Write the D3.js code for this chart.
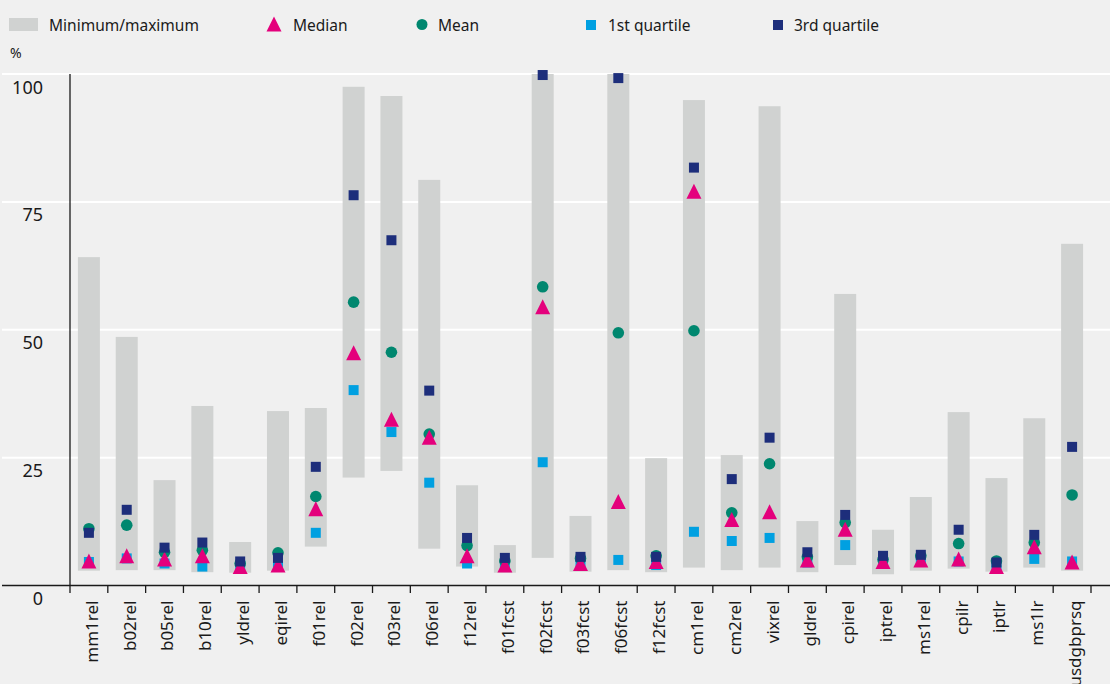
<!DOCTYPE html>
<html>
<head>
<meta charset="utf-8">
<script src="https://cdn.jsdelivr.net/npm/d3@7"></script>
<style>
  html, body { margin: 0; padding: 0; background: #f0f0f0; }
  svg { display: block; font-family: "Noto Sans", sans-serif; }
</style>
</head>
<body>
<svg id="chart" width="1110" height="684"></svg>
<script>
const categories = ["mm1rel","b02rel","b05rel","b10rel","yldrel","eqirel","f01rel","f02rel","f03rel","f06rel","f12rel","f01fcst","f02fcst","f03fcst","f06fcst","f12fcst","cm1rel","cm2rel","vixrel","gldrel","cpirel","iptrel","ms1rel","cpilr","iptlr","ms1lr","usdgbprsq"];
const minVals = [2.9,3.0,3.0,2.6,2.5,2.9,7.6,21.1,22.4,7.2,3.7,2.5,5.4,2.7,3.0,2.6,3.5,3.0,3.5,2.6,4.0,2.2,2.9,3.3,2.7,3.5,2.9];
const maxVals = [64.2,48.6,20.6,35.1,8.5,34.1,34.7,97.5,95.7,79.3,19.6,7.9,100,13.6,100,24.9,94.9,25.5,93.7,12.6,57.0,10.9,17.3,33.9,21.0,32.7,66.8];
const medianVals = [4.8,5.8,5.2,5.8,3.7,4.0,15.0,45.5,32.5,29.0,5.8,4.0,54.5,4.3,16.4,4.7,77.1,12.9,14.4,5.0,11.0,4.7,5.0,5.2,3.7,7.6,4.6];
const meanVals = [11.1,11.8,6.5,6.9,4.3,6.4,17.4,55.4,45.6,29.6,7.8,4.8,58.4,5.3,49.4,5.8,49.8,14.2,23.8,5.6,12.3,5.1,5.8,8.2,4.8,8.4,17.7];
const q1Vals = [4.6,5.3,4.3,3.7,4.0,4.0,10.3,38.2,30.0,20.1,4.3,3.7,24.1,4.5,5.0,4.0,10.5,8.7,9.3,4.5,7.9,4.5,5.0,4.7,4.0,5.2,4.7];
const q3Vals = [10.3,14.8,7.4,8.4,4.7,5.4,23.2,76.3,67.5,38.1,9.3,5.4,99.8,5.6,99.2,5.6,81.7,20.8,28.9,6.5,13.8,5.8,6.0,10.9,4.5,9.9,27.1];
const yTicks = [0,25,50,75,100];
const legendLabels = ["Minimum/maximum","Median","Mean","1st quartile","3rd quartile"];

const colors = { bar: "#d0d2d1", median: "#e4007c", mean: "#00876f", q1: "#00a0e1", q3: "#1d2e7b", text: "#1a1a1a", grid: "#ffffff" };

const W = 1110, H = 684;
const svg = d3.select("#chart");
svg.append("rect").attr("width", W).attr("height", H).attr("fill", "#f0f0f0");

const x = d3.scaleBand().domain(categories).range([70, 1091]).paddingInner(0).paddingOuter(0);
const y = d3.scaleLinear().domain([0, 100]).range([585.5, 74]);

// gridlines
svg.append("g").selectAll("line").data(yTicks.filter(d => d > 0)).join("line")
  .attr("x1", 2).attr("x2", W)
  .attr("y1", d => y(d)).attr("y2", d => y(d))
  .attr("stroke", colors.grid).attr("stroke-width", 2);

// y tick labels (placed below gridlines)
svg.append("g").selectAll("text").data(yTicks).join("text")
  .attr("x", 43).attr("y", d => y(d) + 19.5)
  .attr("text-anchor", "end")
  .attr("font-size", 18).attr("fill", colors.text)
  .text(d => d);

svg.append("text").attr("x", 10).attr("y", 58).attr("font-size", 14).attr("fill", colors.text).text("%");

const data = categories.map((c, i) => ({ c, min: minVals[i], max: maxVals[i], median: medianVals[i], mean: meanVals[i], q1: q1Vals[i], q3: q3Vals[i] }));
const bw = 22;
const cx = d => x(d.c) + x.bandwidth() / 2;

// min/max bars
svg.append("g").selectAll("rect").data(data).join("rect")
  .attr("x", d => cx(d) - bw / 2)
  .attr("y", d => y(d.max))
  .attr("width", bw)
  .attr("height", d => y(d.min) - y(d.max))
  .attr("fill", colors.bar);

const sq = 10;
const tri = "M0,-7.5L7.5,7.5L-7.5,7.5Z";

// Q1
svg.append("g").selectAll("rect").data(data).join("rect")
  .attr("x", d => cx(d) - sq / 2).attr("y", d => y(d.q1) - sq / 2)
  .attr("width", sq).attr("height", sq).attr("fill", colors.q1);
// mean
svg.append("g").selectAll("circle").data(data).join("circle")
  .attr("cx", cx).attr("cy", d => y(d.mean)).attr("r", 5.8).attr("fill", colors.mean);
// median
svg.append("g").selectAll("path").data(data).join("path")
  .attr("d", tri).attr("transform", d => `translate(${cx(d)},${y(d.median)})`).attr("fill", colors.median);
// Q3
svg.append("g").selectAll("rect").data(data).join("rect")
  .attr("x", d => cx(d) - sq / 2).attr("y", d => y(d.q3) - sq / 2)
  .attr("width", sq).attr("height", sq).attr("fill", colors.q3);

// axes
svg.append("line").attr("x1", 70).attr("x2", 70).attr("y1", 74).attr("y2", 585.5)
  .attr("stroke", colors.text).attr("stroke-width", 1.3);
svg.append("line").attr("x1", 2).attr("x2", W).attr("y1", 585.5).attr("y2", 585.5)
  .attr("stroke", colors.text).attr("stroke-width", 1.5);

// boundary ticks
const bounds = categories.map(c => x(c)).concat([x.range()[1]]);
svg.append("g").selectAll("line").data(bounds).join("line")
  .attr("x1", d => d).attr("x2", d => d).attr("y1", 585.5).attr("y2", 593)
  .attr("stroke", colors.text).attr("stroke-width", 1.3);

// category labels
const xAxis = svg.append("g").attr("transform", "translate(0,585.5)")
  .call(d3.axisBottom(x).tickSize(0).tickPadding(0));
xAxis.select(".domain").remove();
xAxis.selectAll("text")
  .attr("transform", "translate(3,15) rotate(-90)")
  .attr("text-anchor", "end")
  .attr("x", 0).attr("y", 0).attr("dy", "0.35em")
  .attr("font-size", 17).attr("font-family", "Noto Sans, sans-serif")
  .attr("fill", colors.text);

// legend
const lg = svg.append("g").attr("font-size", 15.5).attr("fill", colors.text);
lg.append("rect").attr("x", 9).attr("y", 18).attr("width", 29).attr("height", 13).attr("fill", colors.bar);
lg.append("path").attr("d", tri).attr("transform", "translate(274,24)").attr("fill", colors.median);
lg.append("circle").attr("cx", 422).attr("cy", 24.5).attr("r", 5.5).attr("fill", colors.mean);
lg.append("rect").attr("x", 586).attr("y", 20).attr("width", sq).attr("height", sq).attr("fill", colors.q1);
lg.append("rect").attr("x", 773).attr("y", 20).attr("width", sq).attr("height", sq).attr("fill", colors.q3);
const lx = [49, 293, 438, 608, 794];
lg.selectAll("text").data(legendLabels).join("text")
  .attr("x", (d, i) => lx[i]).attr("y", 30.5).text(d => d);
</script>
</body>
</html>
